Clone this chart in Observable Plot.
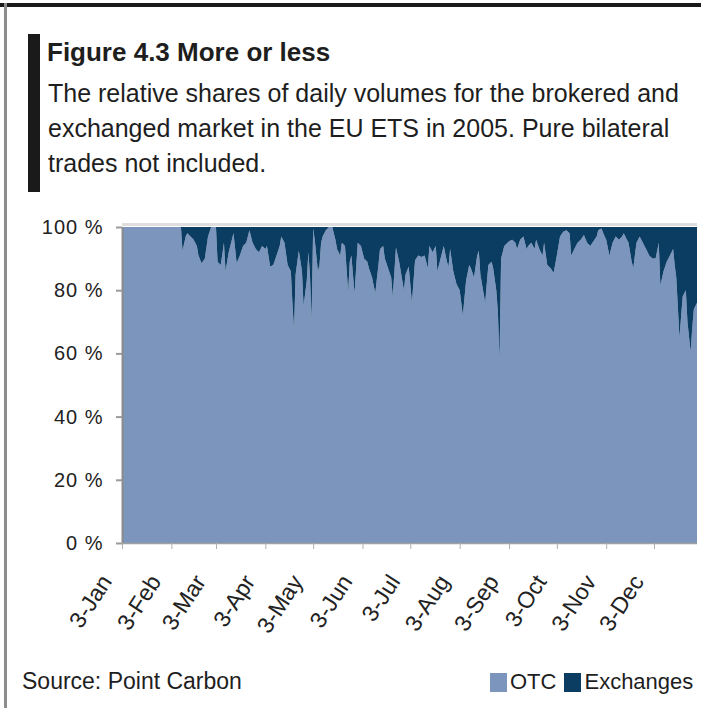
<!DOCTYPE html>
<html>
<head>
<meta charset="utf-8">
<script src="https://cdn.jsdelivr.net/npm/d3@7"></script>
<script src="https://cdn.jsdelivr.net/npm/@observablehq/plot@0.6"></script>
<style>
  body { margin: 0; background: #fff; }
  #page { position: relative; width: 701px; height: 708px; overflow: hidden; background: #fff;
          font-family: "Liberation Sans", Arial, sans-serif; color: #1e1e1e; }
  .abs { position: absolute; }
  #topline { left: 0; top: 3px; width: 701px; height: 4px; background: #1a1a1a; }
  #leftline { left: 4px; top: 3px; width: 3px; height: 705px; background: #8c8c8c; }
  #bar { left: 28px; top: 34px; width: 12px; height: 158px; background: #1a1a1a; }
  #title { left: 47px; top: 39px; font-size: 26px; line-height: 1; font-weight: bold; white-space: nowrap; }
  #subtitle { left: 48px; top: 76px; font-size: 25px; line-height: 35px; white-space: nowrap; }
  #chart { left: 0; top: 200px; }
  #source { left: 22px; top: 670px; font-size: 23px; line-height: 1; white-space: nowrap; }
  #legend { left: 490px; top: 671px; display: flex; align-items: center; font-size: 22px; line-height: 1; white-space: nowrap; }
  #legend .sw { width: 17px; height: 19px; margin-right: 3px; }
  #legend .item { display: flex; align-items: center; margin-right: 8px; }
  svg [aria-label="y-axis tick label"] { letter-spacing: 1px; }
</style>
</head>
<body>
<div id="page">
  <div id="topline" class="abs"></div>
  <div id="leftline" class="abs"></div>
  <div id="bar" class="abs"></div>
  <div id="title" class="abs"></div>
  <div id="subtitle" class="abs"></div>
  <div id="chart" class="abs"></div>
  <div id="source" class="abs"></div>
  <div id="legend" class="abs"></div>
</div>
<script>
// Texts
const titleText = "Figure 4.3 More or less";
const subtitleLines = [
  "The relative shares of daily volumes for the brokered and",
  "exchanged market in the EU ETS in 2005. Pure bilateral",
  "trades not included."
];
const sourceText = "Source: Point Carbon";

// Series and colours
const seriesNames = ["OTC", "Exchanges"];
const seriesColors = ["#7b95bd", "#0b3c61"];

// Axis ticks
const monthNames = ["Jan", "Feb", "Mar", "Apr", "May", "Jun", "Jul", "Aug", "Sep", "Oct", "Nov", "Dec"];
const tickDay = 3;
const yTicks = [0, 20, 40, 60, 80, 100];
const xStart = "2005-01-03";
const xEnd = "2005-12-30";

// Trading dates and the OTC share (%) of daily volume; exchanges take the rest
const dates = [
  "2005-01-03", "2005-02-09", "2005-02-10", "2005-02-12", "2005-02-13", "2005-02-15", "2005-02-17", "2005-02-19",
  "2005-02-20", "2005-02-22", "2005-02-24", "2005-02-26", "2005-02-28", "2005-03-03", "2005-03-04", "2005-03-06",
  "2005-03-08", "2005-03-09", "2005-03-11", "2005-03-14", "2005-03-16", "2005-03-18", "2005-03-20", "2005-03-22",
  "2005-03-24", "2005-03-26", "2005-03-28", "2005-03-30", "2005-04-01", "2005-04-03", "2005-04-04", "2005-04-06",
  "2005-04-08", "2005-04-10", "2005-04-12", "2005-04-13", "2005-04-15", "2005-04-17", "2005-04-19", "2005-04-20",
  "2005-04-21", "2005-04-22", "2005-04-24", "2005-04-26", "2005-04-27", "2005-04-29", "2005-04-30", "2005-05-01",
  "2005-05-02", "2005-05-03", "2005-05-04", "2005-05-06", "2005-05-07", "2005-05-08", "2005-05-09", "2005-05-11",
  "2005-05-13", "2005-05-15", "2005-05-17", "2005-05-18", "2005-05-20", "2005-05-21", "2005-05-23", "2005-05-25",
  "2005-05-26", "2005-05-27", "2005-05-29", "2005-05-31", "2005-06-02", "2005-06-04", "2005-06-06", "2005-06-07",
  "2005-06-09", "2005-06-11", "2005-06-13", "2005-06-14", "2005-06-16", "2005-06-17", "2005-06-19", "2005-06-21",
  "2005-06-22", "2005-06-24", "2005-06-26", "2005-06-28", "2005-06-29", "2005-06-30", "2005-07-02", "2005-07-03",
  "2005-07-04", "2005-07-06", "2005-07-08", "2005-07-10", "2005-07-12", "2005-07-14", "2005-07-15", "2005-07-17",
  "2005-07-19", "2005-07-20", "2005-07-22", "2005-07-24", "2005-07-26", "2005-07-27", "2005-07-28", "2005-07-30",
  "2005-08-01", "2005-08-03", "2005-08-05", "2005-08-07", "2005-08-09", "2005-08-10", "2005-08-12", "2005-08-14",
  "2005-08-15", "2005-08-16", "2005-08-18", "2005-08-19", "2005-08-21", "2005-08-23", "2005-08-24", "2005-08-26",
  "2005-08-27", "2005-08-28", "2005-08-29", "2005-08-31", "2005-09-03", "2005-09-05", "2005-09-07", "2005-09-08",
  "2005-09-10", "2005-09-12", "2005-09-14", "2005-09-15", "2005-09-17", "2005-09-19", "2005-09-20", "2005-09-22",
  "2005-09-24", "2005-09-25", "2005-09-27", "2005-09-29", "2005-10-01", "2005-10-03", "2005-10-05", "2005-10-07",
  "2005-10-09", "2005-10-11", "2005-10-12", "2005-10-14", "2005-10-16", "2005-10-18", "2005-10-20", "2005-10-22",
  "2005-10-24", "2005-10-26", "2005-10-28", "2005-10-29", "2005-10-31", "2005-11-02", "2005-11-03", "2005-11-05",
  "2005-11-07", "2005-11-09", "2005-11-11", "2005-11-13", "2005-11-14", "2005-11-16", "2005-11-17", "2005-11-19",
  "2005-11-20", "2005-11-22", "2005-11-24", "2005-11-26", "2005-11-28", "2005-11-30", "2005-12-02", "2005-12-04",
  "2005-12-06", "2005-12-07", "2005-12-09", "2005-12-11", "2005-12-13", "2005-12-15", "2005-12-16", "2005-12-17",
  "2005-12-19", "2005-12-21", "2005-12-23", "2005-12-24", "2005-12-26", "2005-12-27", "2005-12-28", "2005-12-30"
];
const otcShare = [
  100, 100, 92.5, 97, 98, 97, 96, 94,
  91, 88.5, 90, 97, 100, 100, 89, 88,
  95, 86, 92, 98, 88.5, 91, 94, 95,
  99, 95, 93, 92, 94, 93, 94, 87.5,
  88, 91, 94, 97, 95, 88, 86, 76,
  67.5, 85, 92.5, 86, 75, 83, 92, 85,
  70.5, 99.5, 96, 86, 88, 95, 97, 99,
  100, 100, 96, 93, 91, 95, 94, 79.5,
  89, 91, 79, 95, 94, 90, 89, 87,
  84, 79, 88, 93, 94, 90, 87, 84,
  78, 93.5, 89, 83, 80, 85, 87.5, 82,
  76, 89.5, 91, 90.5, 91, 87, 94, 92,
  94, 86, 90, 94, 89, 87.5, 93, 86,
  82, 80, 72, 83, 88, 87, 84, 91,
  92.5, 85, 79, 76, 88, 89, 87, 80,
  73, 58, 90, 94, 95.5, 96, 95, 93,
  96, 97, 93, 94, 95, 93, 96, 93,
  91, 95, 88, 87, 85.5, 91, 97, 98.5,
  99, 98, 91, 93, 95, 96, 97.5, 95,
  94, 95.5, 97, 99, 99.5, 97, 96, 91,
  95, 97, 96, 97, 98, 96, 95, 89,
  87, 95, 97, 95, 93, 91, 90, 90,
  95, 81.5, 86, 89, 91, 93, 88, 84,
  65, 78, 80, 70, 60.5, 68, 74, 76
];

// Long table for the stacked areas
const rows = dates.flatMap((d, i) => [
  {date: new Date(d), series: seriesNames[0], share: otcShare[i]},
  {date: new Date(d), series: seriesNames[1], share: 100 - otcShare[i]}
]);

const monthTicks = monthNames.map((m, i) => new Date(Date.UTC(2005, i, tickDay)));
const domainStart = new Date(xStart);
const monthLabel = d => `${d.getUTCDate()}-${monthNames[d.getUTCMonth()]}`;

// Header text
document.getElementById("title").textContent = titleText;
document.getElementById("subtitle").innerHTML = subtitleLines.map(s => `<div>${s}</div>`).join("");
document.getElementById("source").textContent = sourceText;

// Legend swatches
document.getElementById("legend").innerHTML = seriesNames.map((s, i) =>
  `<div class="item"><div class="sw" style="background:${seriesColors[i]}"></div><span>${s}</span></div>`
).join("");

const chart = Plot.plot({
  width: 701,
  height: 455,
  marginTop: 27,
  marginRight: 4,
  marginBottom: 112,
  marginLeft: 122,
  style: {fontFamily: "'Liberation Sans', Arial, sans-serif", background: "transparent", color: "#222"},
  x: {type: "utc", domain: [domainStart, new Date(xEnd)]},
  y: {domain: [0, 100]},
  color: {domain: seriesNames, range: seriesColors},
  marks: [
    Plot.areaY(rows, {x: "date", y: "share", fill: "series", order: seriesNames}),
    Plot.ruleY([100], {stroke: "#dedede", strokeWidth: 3, dy: -3}),
    Plot.ruleX([domainStart], {stroke: "#8c8c8c", strokeWidth: 2}),
    Plot.ruleY([0], {stroke: "#a0a0a0", strokeWidth: 1.5}),
    Plot.axisY({
      ticks: yTicks, tickFormat: d => `${d} %`, tickSize: 6, tickPadding: 13,
      stroke: "#9a9a9a", strokeWidth: 2, fontSize: 20, fill: "#222", label: null
    }),
    // month tick marks on the baseline
    Plot.axisX({ticks: monthTicks, tickFormat: () => "", tickSize: 6, stroke: "#b0b0b0", label: null}),
    // slanted month labels, set back from the ticks
    Plot.axisX({
      ticks: monthTicks, tickFormat: monthLabel,
      tickSize: 0, tickPadding: 34, tickRotate: -57, dx: -16, fontSize: 23, fill: "#222", label: null
    })
  ]
});
document.getElementById("chart").appendChild(chart);
</script>
</body>
</html>
